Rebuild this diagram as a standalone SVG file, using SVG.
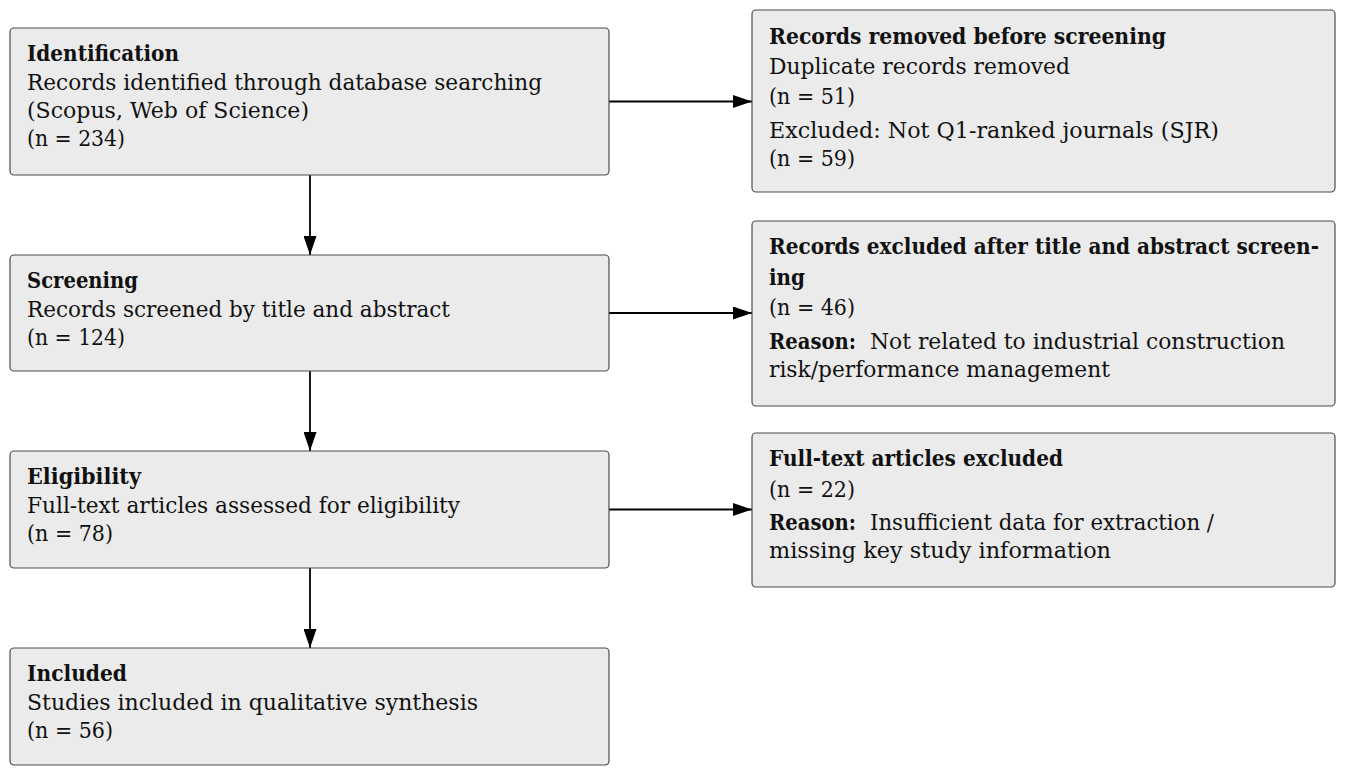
<svg xmlns="http://www.w3.org/2000/svg" width="1345" height="775" viewBox="0 0 1345 775">
<style>
.box{fill:#ebebeb;stroke:#4d4d4d;stroke-width:1.2}
text{font-family:"DejaVu Serif","Liberation Serif",serif;font-size:21.5px;fill:#111}
.b{font-weight:bold}
.c{stroke:#000;stroke-width:1.8;fill:none;marker-end:url(#ah)}
</style>
<defs>
<marker id="ah" viewBox="0 0 19 13" refX="19" refY="6.5" markerWidth="19" markerHeight="13" markerUnits="userSpaceOnUse" orient="auto">
<path d="M0,0 L19,6.5 L0,13 z" fill="#000"/>
</marker>
</defs>
<rect width="1345" height="775" fill="#fff"/>
<g id="connectors">
<line class="c" x1="609" y1="101.5" x2="752" y2="101.5"/>
<line class="c" x1="609" y1="313" x2="752" y2="313"/>
<line class="c" x1="609" y1="509.5" x2="752" y2="509.5"/>
<line class="c" x1="310" y1="175" x2="310" y2="255"/>
<line class="c" x1="310" y1="371" x2="310" y2="451"/>
<line class="c" x1="310" y1="568" x2="310" y2="648"/>
</g>
<g id="identification">
<rect class="box" x="10" y="28" width="599" height="147" rx="4"/>
<text class="b" x="27" y="61" textLength="152" lengthAdjust="spacingAndGlyphs">Identification</text>
<text x="27" y="90" textLength="515" lengthAdjust="spacingAndGlyphs">Records identified through database searching</text>
<text x="27" y="118" textLength="282" lengthAdjust="spacingAndGlyphs">(Scopus, Web of Science)</text>
<text x="27" y="146" textLength="98" lengthAdjust="spacingAndGlyphs">(n = 234)</text>
</g>
<g id="removed">
<rect class="box" x="752" y="10" width="583" height="182" rx="4"/>
<text class="b" x="769" y="44" textLength="397" lengthAdjust="spacingAndGlyphs">Records removed before screening</text>
<text x="769" y="74" textLength="301" lengthAdjust="spacingAndGlyphs">Duplicate records removed</text>
<text x="769" y="104" textLength="86" lengthAdjust="spacingAndGlyphs">(n = 51)</text>
<text x="769" y="138" textLength="450" lengthAdjust="spacingAndGlyphs">Excluded:  Not Q1-ranked journals (SJR)</text>
<text x="769" y="166" textLength="86" lengthAdjust="spacingAndGlyphs">(n = 59)</text>
</g>
<g id="screening">
<rect class="box" x="10" y="255" width="599" height="116" rx="4"/>
<text class="b" x="27" y="288" textLength="111" lengthAdjust="spacingAndGlyphs">Screening</text>
<text x="27" y="317" textLength="423" lengthAdjust="spacingAndGlyphs">Records screened by title and abstract</text>
<text x="27" y="345" textLength="98" lengthAdjust="spacingAndGlyphs">(n = 124)</text>
</g>
<g id="excluded-screening">
<rect class="box" x="752" y="221" width="583" height="185" rx="4"/>
<text class="b" x="769" y="254" textLength="550" lengthAdjust="spacingAndGlyphs">Records excluded after title and abstract screen-</text>
<text class="b" x="769" y="285" textLength="36" lengthAdjust="spacingAndGlyphs">ing</text>
<text x="769" y="315" textLength="86" lengthAdjust="spacingAndGlyphs">(n = 46)</text>
<text class="b" x="769" y="349" textLength="87" lengthAdjust="spacingAndGlyphs">Reason:</text>
<text x="870" y="349" textLength="415" lengthAdjust="spacingAndGlyphs">Not related to industrial construction</text>
<text x="769" y="377" textLength="341" lengthAdjust="spacingAndGlyphs">risk/performance management</text>
</g>
<g id="eligibility">
<rect class="box" x="10" y="451" width="599" height="117" rx="4"/>
<text class="b" x="27" y="484" textLength="114" lengthAdjust="spacingAndGlyphs">Eligibility</text>
<text x="27" y="513" textLength="433" lengthAdjust="spacingAndGlyphs">Full-text articles assessed for eligibility</text>
<text x="27" y="541" textLength="86" lengthAdjust="spacingAndGlyphs">(n = 78)</text>
</g>
<g id="fulltext-excluded">
<rect class="box" x="752" y="433" width="583" height="154" rx="4"/>
<text class="b" x="769" y="466" textLength="294" lengthAdjust="spacingAndGlyphs">Full-text articles excluded</text>
<text x="769" y="497" textLength="86" lengthAdjust="spacingAndGlyphs">(n = 22)</text>
<text class="b" x="769" y="530" textLength="87" lengthAdjust="spacingAndGlyphs">Reason:</text>
<text x="870" y="530" textLength="344" lengthAdjust="spacingAndGlyphs">Insufficient data for extraction /</text>
<text x="769" y="558" textLength="342" lengthAdjust="spacingAndGlyphs">missing key study information</text>
</g>
<g id="included">
<rect class="box" x="10" y="648" width="599" height="117" rx="4"/>
<text class="b" x="27" y="681" textLength="100" lengthAdjust="spacingAndGlyphs">Included</text>
<text x="27" y="710" textLength="451" lengthAdjust="spacingAndGlyphs">Studies included in qualitative synthesis</text>
<text x="27" y="738" textLength="86" lengthAdjust="spacingAndGlyphs">(n = 56)</text>
</g>
</svg>
